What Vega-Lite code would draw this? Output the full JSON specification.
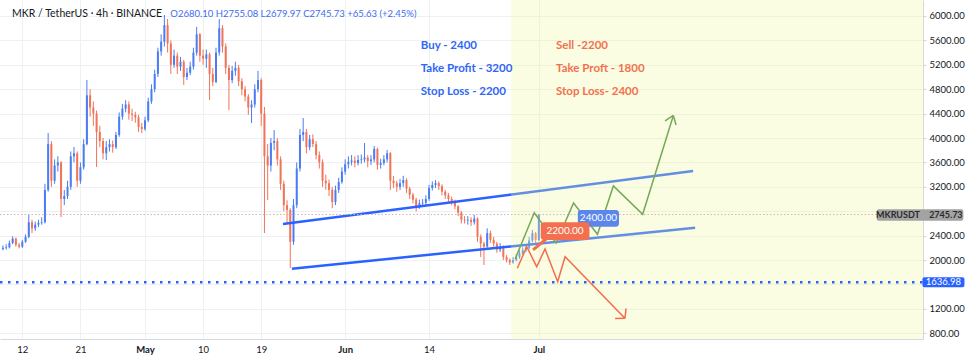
{
  "$schema": "https://vega.github.io/schema/vega-lite/v6.json",
  "width": 923,
  "height": 339,
  "autosize": {"type": "none"},
  "padding": {"left": 0, "top": 0, "right": 45, "bottom": 22},
  "background": "white",
  "config": {"view": {"stroke": null}, "font": "Lato"},
  "encoding": {
    "x": {"field": "t", "type": "temporal", "title": null,
      "scale": {"type": "utc", "domain": [{"year": 2021, "month": 4, "date": 8, "hours": 13, "utc": true}, {"year": 2021, "month": 8, "date": 29, "hours": 12, "utc": true}]},
      "axis": {"title": null, "orient": "bottom",
        "values": [{"year": 2021, "month": 4, "date": 12, "utc": true}, {"year": 2021, "month": 4, "date": 21, "utc": true}, {"year": 2021, "month": 5, "date": 1, "utc": true}, {"year": 2021, "month": 5, "date": 10, "utc": true}, {"year": 2021, "month": 5, "date": 19, "utc": true}, {"year": 2021, "month": 6, "date": 1, "utc": true}, {"year": 2021, "month": 6, "date": 14, "utc": true}, {"year": 2021, "month": 7, "date": 1, "utc": true}],
        "labelExpr": "utcdate(datum.value) == 1 ? utcFormat(datum.value, '%b') : utcFormat(datum.value, '%-d')",
        "labelFontWeight": {"condition": {"test": "utcdate(datum.value) == 1", "value": "bold"}, "value": "normal"},
        "labelFontSize": 9.5, "labelColor": "#131722", "labelPadding": 5, "labelFlush": false,
        "ticks": false, "domainColor": "#d6d9e0", "grid": true, "gridColor": "#eef0f4"}},
    "y": {"field": "p", "type": "quantitative", "title": null,
      "scale": {"domain": [706, 6262], "nice": false, "zero": false},
      "axis": {"title": null, "orient": "right",
        "values": [800, 1200, 1600, 2000, 2400, 2800, 3200, 3600, 4000, 4400, 4800, 5200, 5600, 6000],
        "labelExpr": "datum.value == 2800 || datum.value == 1600 ? '' : format(datum.value, '.2f')",
        "labelFontSize": 9.5, "labelColor": "#131722", "labelPadding": 3, "tickSize": 3, "tickColor": "#cfd2da",
        "domainColor": "#d6d9e0", "grid": true, "gridColor": "#eef0f4"}}
  },
  "datasets": {
    "candles": [
      {"t": "2021-04-09T00:00Z", "o": 2180, "h": 2240, "l": 2160, "c": 2200},
      {"t": "2021-04-09T12:00Z", "o": 2200, "h": 2260, "l": 2170, "c": 2210},
      {"t": "2021-04-10T00:00Z", "o": 2210, "h": 2320, "l": 2190, "c": 2280},
      {"t": "2021-04-10T12:00Z", "o": 2280, "h": 2390, "l": 2260, "c": 2350},
      {"t": "2021-04-11T00:00Z", "o": 2350, "h": 2370, "l": 2220, "c": 2250},
      {"t": "2021-04-11T12:00Z", "o": 2250, "h": 2280, "l": 2190, "c": 2220},
      {"t": "2021-04-12T00:00Z", "o": 2220, "h": 2330, "l": 2200, "c": 2300},
      {"t": "2021-04-12T12:00Z", "o": 2300, "h": 2420, "l": 2280, "c": 2380},
      {"t": "2021-04-13T00:00Z", "o": 2380, "h": 2740, "l": 2360, "c": 2620},
      {"t": "2021-04-13T12:00Z", "o": 2620, "h": 2660, "l": 2440, "c": 2520},
      {"t": "2021-04-14T00:00Z", "o": 2520, "h": 2630, "l": 2480, "c": 2580},
      {"t": "2021-04-14T12:00Z", "o": 2580, "h": 2660, "l": 2540, "c": 2610},
      {"t": "2021-04-15T00:00Z", "o": 2610, "h": 2700, "l": 2580, "c": 2620},
      {"t": "2021-04-15T12:00Z", "o": 2620, "h": 3250, "l": 2600, "c": 3150},
      {"t": "2021-04-16T00:00Z", "o": 3150, "h": 4082, "l": 3120, "c": 3900},
      {"t": "2021-04-16T12:00Z", "o": 3900, "h": 3950, "l": 3200, "c": 3300},
      {"t": "2021-04-17T00:00Z", "o": 3300, "h": 3650, "l": 3250, "c": 3550},
      {"t": "2021-04-17T12:00Z", "o": 3550, "h": 3700, "l": 3450, "c": 3600},
      {"t": "2021-04-18T00:00Z", "o": 3600, "h": 3620, "l": 2706, "c": 3000},
      {"t": "2021-04-18T12:00Z", "o": 3000, "h": 3150, "l": 2900, "c": 3050},
      {"t": "2021-04-19T00:00Z", "o": 3050, "h": 3300, "l": 3000, "c": 3200},
      {"t": "2021-04-19T12:00Z", "o": 3200, "h": 3780, "l": 3150, "c": 3700},
      {"t": "2021-04-20T00:00Z", "o": 3700, "h": 3853, "l": 3600, "c": 3750},
      {"t": "2021-04-20T12:00Z", "o": 3750, "h": 3780, "l": 3200, "c": 3300},
      {"t": "2021-04-21T00:00Z", "o": 3300, "h": 3600, "l": 3250, "c": 3520},
      {"t": "2021-04-21T12:00Z", "o": 3520, "h": 3980, "l": 3480, "c": 3900},
      {"t": "2021-04-22T00:00Z", "o": 3900, "h": 4951, "l": 3880, "c": 4700},
      {"t": "2021-04-22T12:00Z", "o": 4700, "h": 4800, "l": 4350, "c": 4500},
      {"t": "2021-04-23T00:00Z", "o": 4500, "h": 4600, "l": 4200, "c": 4400},
      {"t": "2021-04-23T12:00Z", "o": 4400, "h": 4450, "l": 3525, "c": 4100},
      {"t": "2021-04-24T00:00Z", "o": 4100, "h": 4200, "l": 3850, "c": 3950},
      {"t": "2021-04-24T12:00Z", "o": 3950, "h": 4000, "l": 3650, "c": 3750},
      {"t": "2021-04-25T00:00Z", "o": 3750, "h": 3950, "l": 3640, "c": 3850},
      {"t": "2021-04-25T12:00Z", "o": 3850, "h": 3980, "l": 3780, "c": 3900},
      {"t": "2021-04-26T00:00Z", "o": 3900, "h": 3960, "l": 3760, "c": 3850},
      {"t": "2021-04-26T12:00Z", "o": 3850, "h": 4100, "l": 3820, "c": 4050},
      {"t": "2021-04-27T00:00Z", "o": 4050, "h": 4420, "l": 4020, "c": 4350},
      {"t": "2021-04-27T12:00Z", "o": 4350, "h": 4560, "l": 4300, "c": 4480},
      {"t": "2021-04-28T00:00Z", "o": 4480, "h": 4620, "l": 4420, "c": 4550},
      {"t": "2021-04-28T12:00Z", "o": 4550, "h": 4600, "l": 4300, "c": 4400},
      {"t": "2021-04-29T00:00Z", "o": 4400, "h": 4480, "l": 4280, "c": 4380},
      {"t": "2021-04-29T12:00Z", "o": 4380, "h": 4430, "l": 4250, "c": 4340},
      {"t": "2021-04-30T00:00Z", "o": 4340, "h": 4380, "l": 4100, "c": 4180},
      {"t": "2021-04-30T12:00Z", "o": 4180, "h": 4250, "l": 4080, "c": 4150},
      {"t": "2021-05-01T00:00Z", "o": 4150, "h": 4350, "l": 4120, "c": 4290},
      {"t": "2021-05-01T12:00Z", "o": 4290, "h": 4660, "l": 4260, "c": 4600},
      {"t": "2021-05-02T00:00Z", "o": 4600, "h": 4880, "l": 4560, "c": 4800},
      {"t": "2021-05-02T12:00Z", "o": 4800, "h": 5120, "l": 4750, "c": 5050},
      {"t": "2021-05-03T00:00Z", "o": 5050, "h": 5480, "l": 5000, "c": 5420},
      {"t": "2021-05-03T12:00Z", "o": 5420, "h": 5700, "l": 5350, "c": 5580},
      {"t": "2021-05-04T00:00Z", "o": 5580, "h": 6016, "l": 5500, "c": 5850},
      {"t": "2021-05-04T12:00Z", "o": 5850, "h": 5950, "l": 5400, "c": 5550},
      {"t": "2021-05-05T00:00Z", "o": 5550, "h": 5600, "l": 5050, "c": 5200},
      {"t": "2021-05-05T12:00Z", "o": 5200, "h": 5450, "l": 5150, "c": 5350},
      {"t": "2021-05-06T00:00Z", "o": 5350, "h": 5400, "l": 5050, "c": 5170},
      {"t": "2021-05-06T12:00Z", "o": 5170, "h": 5330, "l": 5100, "c": 5250},
      {"t": "2021-05-07T00:00Z", "o": 5250, "h": 5280, "l": 4869, "c": 5000},
      {"t": "2021-05-07T12:00Z", "o": 5000, "h": 5150, "l": 4950, "c": 5070},
      {"t": "2021-05-08T00:00Z", "o": 5070, "h": 5250, "l": 5030, "c": 5170},
      {"t": "2021-05-08T12:00Z", "o": 5170, "h": 5480, "l": 5120, "c": 5400},
      {"t": "2021-05-09T00:00Z", "o": 5400, "h": 5820, "l": 5350, "c": 5700},
      {"t": "2021-05-09T12:00Z", "o": 5700, "h": 5720, "l": 5250, "c": 5350},
      {"t": "2021-05-10T00:00Z", "o": 5350, "h": 5450, "l": 5200, "c": 5300},
      {"t": "2021-05-10T12:00Z", "o": 5300, "h": 5450, "l": 5150, "c": 5370},
      {"t": "2021-05-11T00:00Z", "o": 5370, "h": 5400, "l": 4623, "c": 5050},
      {"t": "2021-05-11T12:00Z", "o": 5050, "h": 5150, "l": 4850, "c": 4920},
      {"t": "2021-05-12T00:00Z", "o": 4920, "h": 5480, "l": 4900, "c": 5400},
      {"t": "2021-05-12T12:00Z", "o": 5400, "h": 5950, "l": 5350, "c": 5800},
      {"t": "2021-05-13T00:00Z", "o": 5800, "h": 5850, "l": 5400, "c": 5500},
      {"t": "2021-05-13T12:00Z", "o": 5500, "h": 5550, "l": 5050, "c": 5150},
      {"t": "2021-05-14T00:00Z", "o": 5150, "h": 5200, "l": 4459, "c": 4950},
      {"t": "2021-05-14T12:00Z", "o": 4950, "h": 5180, "l": 4900, "c": 5100},
      {"t": "2021-05-15T00:00Z", "o": 5100, "h": 5250, "l": 5020, "c": 5150},
      {"t": "2021-05-15T12:00Z", "o": 5150, "h": 5200, "l": 4850, "c": 4930},
      {"t": "2021-05-16T00:00Z", "o": 4930, "h": 4980, "l": 4700, "c": 4800},
      {"t": "2021-05-16T12:00Z", "o": 4800, "h": 4850, "l": 4600, "c": 4680},
      {"t": "2021-05-17T00:00Z", "o": 4680, "h": 4720, "l": 4380, "c": 4500},
      {"t": "2021-05-17T12:00Z", "o": 4500, "h": 4620, "l": 4246, "c": 4550},
      {"t": "2021-05-18T00:00Z", "o": 4550, "h": 4880, "l": 4500, "c": 4800},
      {"t": "2021-05-18T12:00Z", "o": 4800, "h": 5100, "l": 4750, "c": 4950},
      {"t": "2021-05-19T00:00Z", "o": 4950, "h": 4980, "l": 4200, "c": 4400},
      {"t": "2021-05-19T12:00Z", "o": 4400, "h": 4509, "l": 2443, "c": 3700},
      {"t": "2021-05-20T00:00Z", "o": 3700, "h": 3900, "l": 2984, "c": 3550},
      {"t": "2021-05-20T12:00Z", "o": 3550, "h": 4000, "l": 3450, "c": 3920},
      {"t": "2021-05-21T00:00Z", "o": 3920, "h": 4131, "l": 3800, "c": 3950},
      {"t": "2021-05-21T12:00Z", "o": 3950, "h": 4000, "l": 3550, "c": 3650},
      {"t": "2021-05-22T00:00Z", "o": 3650, "h": 3700, "l": 3150, "c": 3250},
      {"t": "2021-05-22T12:00Z", "o": 3250, "h": 3300, "l": 2800, "c": 2900},
      {"t": "2021-05-23T00:00Z", "o": 2900, "h": 2980, "l": 2600, "c": 2820},
      {"t": "2021-05-23T12:00Z", "o": 2820, "h": 2850, "l": 1870, "c": 2300},
      {"t": "2021-05-24T00:00Z", "o": 2300, "h": 3000, "l": 2250, "c": 2900},
      {"t": "2021-05-24T12:00Z", "o": 2900, "h": 3600, "l": 2850, "c": 3500},
      {"t": "2021-05-25T00:00Z", "o": 3500, "h": 4150, "l": 3450, "c": 4050},
      {"t": "2021-05-25T12:00Z", "o": 4050, "h": 4328, "l": 3950, "c": 4100},
      {"t": "2021-05-26T00:00Z", "o": 4100, "h": 4150, "l": 3750, "c": 3850},
      {"t": "2021-05-26T12:00Z", "o": 3850, "h": 4050, "l": 3800, "c": 3980},
      {"t": "2021-05-27T00:00Z", "o": 3980, "h": 4060, "l": 3850, "c": 3900},
      {"t": "2021-05-27T12:00Z", "o": 3900, "h": 3950, "l": 3650, "c": 3720},
      {"t": "2021-05-28T00:00Z", "o": 3720, "h": 3780, "l": 3500, "c": 3600},
      {"t": "2021-05-28T12:00Z", "o": 3600, "h": 3650, "l": 3200, "c": 3300},
      {"t": "2021-05-29T00:00Z", "o": 3300, "h": 3400, "l": 3150, "c": 3260},
      {"t": "2021-05-29T12:00Z", "o": 3260, "h": 3320, "l": 3050, "c": 3150},
      {"t": "2021-05-30T00:00Z", "o": 3150, "h": 3200, "l": 2850, "c": 2950},
      {"t": "2021-05-30T12:00Z", "o": 2950, "h": 3220, "l": 2900, "c": 3150},
      {"t": "2021-05-31T00:00Z", "o": 3150, "h": 3350, "l": 3100, "c": 3280},
      {"t": "2021-05-31T12:00Z", "o": 3280, "h": 3520, "l": 3250, "c": 3450},
      {"t": "2021-06-01T00:00Z", "o": 3450, "h": 3650, "l": 3400, "c": 3570},
      {"t": "2021-06-01T12:00Z", "o": 3570, "h": 3700, "l": 3500, "c": 3610},
      {"t": "2021-06-02T00:00Z", "o": 3610, "h": 3720, "l": 3550, "c": 3630},
      {"t": "2021-06-02T12:00Z", "o": 3630, "h": 3700, "l": 3520, "c": 3590},
      {"t": "2021-06-03T00:00Z", "o": 3590, "h": 3720, "l": 3550, "c": 3640},
      {"t": "2021-06-03T12:00Z", "o": 3640, "h": 3730, "l": 3580, "c": 3650},
      {"t": "2021-06-04T00:00Z", "o": 3650, "h": 3918, "l": 3600, "c": 3680},
      {"t": "2021-06-04T12:00Z", "o": 3680, "h": 3720, "l": 3520, "c": 3620},
      {"t": "2021-06-05T00:00Z", "o": 3620, "h": 3720, "l": 3560, "c": 3650},
      {"t": "2021-06-05T12:00Z", "o": 3650, "h": 3870, "l": 3600, "c": 3820},
      {"t": "2021-06-06T00:00Z", "o": 3820, "h": 3840, "l": 3480, "c": 3560},
      {"t": "2021-06-06T12:00Z", "o": 3560, "h": 3660, "l": 3500, "c": 3590},
      {"t": "2021-06-07T00:00Z", "o": 3590, "h": 3720, "l": 3550, "c": 3650},
      {"t": "2021-06-07T12:00Z", "o": 3650, "h": 3804, "l": 3600, "c": 3750},
      {"t": "2021-06-08T00:00Z", "o": 3750, "h": 3770, "l": 3150, "c": 3300},
      {"t": "2021-06-08T12:00Z", "o": 3300, "h": 3380, "l": 3180, "c": 3260},
      {"t": "2021-06-09T00:00Z", "o": 3260, "h": 3300, "l": 3120, "c": 3200},
      {"t": "2021-06-09T12:00Z", "o": 3200, "h": 3330, "l": 3150, "c": 3260},
      {"t": "2021-06-10T00:00Z", "o": 3260, "h": 3380, "l": 3200, "c": 3310},
      {"t": "2021-06-10T12:00Z", "o": 3310, "h": 3340, "l": 3100, "c": 3170},
      {"t": "2021-06-11T00:00Z", "o": 3170, "h": 3200, "l": 3000, "c": 3070},
      {"t": "2021-06-11T12:00Z", "o": 3070, "h": 3100, "l": 2930, "c": 2990},
      {"t": "2021-06-12T00:00Z", "o": 2990, "h": 3020, "l": 2800, "c": 2870},
      {"t": "2021-06-12T12:00Z", "o": 2870, "h": 2990, "l": 2840, "c": 2930},
      {"t": "2021-06-13T00:00Z", "o": 2930, "h": 3000, "l": 2880, "c": 2940},
      {"t": "2021-06-13T12:00Z", "o": 2940, "h": 3060, "l": 2900, "c": 3000},
      {"t": "2021-06-14T00:00Z", "o": 3000, "h": 3230, "l": 2970, "c": 3180},
      {"t": "2021-06-14T12:00Z", "o": 3180, "h": 3290, "l": 3140, "c": 3230},
      {"t": "2021-06-15T00:00Z", "o": 3230, "h": 3310, "l": 3180, "c": 3260},
      {"t": "2021-06-15T12:00Z", "o": 3260, "h": 3290, "l": 3150, "c": 3210},
      {"t": "2021-06-16T00:00Z", "o": 3210, "h": 3240, "l": 3060, "c": 3120},
      {"t": "2021-06-16T12:00Z", "o": 3120, "h": 3150, "l": 3000, "c": 3060},
      {"t": "2021-06-17T00:00Z", "o": 3060, "h": 3100, "l": 2950, "c": 3000},
      {"t": "2021-06-17T12:00Z", "o": 3000, "h": 3040, "l": 2900, "c": 2960},
      {"t": "2021-06-18T00:00Z", "o": 2960, "h": 2990, "l": 2830, "c": 2880},
      {"t": "2021-06-18T12:00Z", "o": 2880, "h": 2900, "l": 2720, "c": 2780},
      {"t": "2021-06-19T00:00Z", "o": 2780, "h": 2800, "l": 2600, "c": 2660},
      {"t": "2021-06-19T12:00Z", "o": 2660, "h": 2720, "l": 2600, "c": 2650},
      {"t": "2021-06-20T00:00Z", "o": 2650, "h": 2720, "l": 2580, "c": 2660},
      {"t": "2021-06-20T12:00Z", "o": 2660, "h": 2700, "l": 2560, "c": 2620},
      {"t": "2021-06-21T00:00Z", "o": 2620, "h": 2740, "l": 2580, "c": 2680},
      {"t": "2021-06-21T12:00Z", "o": 2680, "h": 2700, "l": 2300, "c": 2380},
      {"t": "2021-06-22T00:00Z", "o": 2380, "h": 2420, "l": 2050, "c": 2270},
      {"t": "2021-06-22T12:00Z", "o": 2270, "h": 2300, "l": 1919, "c": 2220},
      {"t": "2021-06-23T00:00Z", "o": 2220, "h": 2520, "l": 2200, "c": 2440},
      {"t": "2021-06-23T12:00Z", "o": 2440, "h": 2480, "l": 2280, "c": 2330},
      {"t": "2021-06-24T00:00Z", "o": 2330, "h": 2380, "l": 2220, "c": 2270},
      {"t": "2021-06-24T12:00Z", "o": 2270, "h": 2300, "l": 2120, "c": 2170},
      {"t": "2021-06-25T00:00Z", "o": 2170, "h": 2280, "l": 2130, "c": 2210},
      {"t": "2021-06-25T12:00Z", "o": 2210, "h": 2240, "l": 2000, "c": 2050},
      {"t": "2021-06-26T00:00Z", "o": 2050, "h": 2080, "l": 1960, "c": 2000},
      {"t": "2021-06-26T12:00Z", "o": 2000, "h": 2030, "l": 1920, "c": 1960},
      {"t": "2021-06-27T00:00Z", "o": 1960, "h": 2050, "l": 1940, "c": 2000},
      {"t": "2021-06-27T12:00Z", "o": 2000, "h": 2100, "l": 1980, "c": 2050},
      {"t": "2021-06-28T00:00Z", "o": 2050, "h": 2160, "l": 2020, "c": 2110},
      {"t": "2021-06-28T12:00Z", "o": 2110, "h": 2210, "l": 2080, "c": 2160},
      {"t": "2021-06-29T00:00Z", "o": 2160, "h": 2260, "l": 2130, "c": 2200},
      {"t": "2021-06-29T12:00Z", "o": 2200, "h": 2380, "l": 2170, "c": 2320},
      {"t": "2021-06-30T00:00Z", "o": 2320, "h": 2493, "l": 2290, "c": 2440},
      {"t": "2021-06-30T12:00Z", "o": 2440, "h": 2460, "l": 2280, "c": 2330},
      {"t": "2021-07-01T00:00Z", "o": 2330, "h": 2755.08, "l": 2310, "c": 2745.73}
    ]
  },
  "layer": [
    {
      "data": {"name": "candles"},
      "mark": {"type": "rule", "strokeWidth": 1},
      "encoding": {
        "y": {"field": "l", "type": "quantitative", "title": null,
          "axis": {"title": null, "orient": "right",
            "values": [800, 1200, 1600, 2000, 2400, 2800, 3200, 3600, 4000, 4400, 4800, 5200, 5600, 6000],
            "labelExpr": "datum.value == 2800 || datum.value == 1600 ? '' : format(datum.value, '.2f')",
            "labelFontSize": 9.5, "labelColor": "#131722", "labelPadding": 3, "tickSize": 3, "tickColor": "#cfd2da",
            "domainColor": "#d6d9e0", "grid": true, "gridColor": "#eef0f4"}},
        "y2": {"field": "h"},
        "color": {"condition": {"test": "datum.c >= datum.o", "value": "#4a7cf2"}, "value": "#f07457"}
      }
    },
    {
      "data": {"name": "candles"},
      "mark": {"type": "rule", "strokeWidth": 2},
      "encoding": {
        "y": {"field": "o", "type": "quantitative", "title": null,
          "axis": {"title": null, "orient": "right",
            "values": [800, 1200, 1600, 2000, 2400, 2800, 3200, 3600, 4000, 4400, 4800, 5200, 5600, 6000],
            "labelExpr": "datum.value == 2800 || datum.value == 1600 ? '' : format(datum.value, '.2f')",
            "labelFontSize": 9.5, "labelColor": "#131722", "labelPadding": 3, "tickSize": 3, "tickColor": "#cfd2da",
            "domainColor": "#d6d9e0", "grid": true, "gridColor": "#eef0f4"}},
        "y2": {"field": "c"},
        "color": {"condition": {"test": "datum.c >= datum.o", "value": "#4a7cf2"}, "value": "#f07457"}
      }
    },
    {
      "data": {"values": [
        {"t": "2021-05-22T09:00Z", "p": 2591, "g": "upper"},
        {"t": "2021-07-24T21:30Z", "p": 3460, "g": "upper"},
        {"t": "2021-05-23T18:00Z", "p": 1858, "g": "lower"},
        {"t": "2021-07-25T05:00Z", "p": 2530, "g": "lower"}
      ]},
      "mark": {"type": "line", "color": "#2962ff", "strokeWidth": 2.5},
      "encoding": {"detail": {"field": "g"}}
    },
    {
      "data": {"values": [
        {"t": "2021-06-26T17:00Z", "t2": "2021-08-29T12:00Z", "p": 706, "p2": 6262}
      ]},
      "mark": {"type": "rect", "fill": "#eef79a", "opacity": 0.3},
      "encoding": {"x2": {"field": "t2"}, "y2": {"field": "p2"}}
    },
    {
      "data": {"values": [
        {"t": "2021-04-08T13:00Z", "p": 2745.73},
        {"t": "2021-08-29T12:00Z", "p": 2745.73}
      ]},
      "mark": {"type": "line", "color": "#d4b4ad", "strokeWidth": 1, "strokeDash": [1.5, 2]},
      "encoding": {}
    },
    {
      "data": {"values": [
        {"t": "2021-04-08T13:00Z", "p": 1636.98},
        {"t": "2021-08-29T12:00Z", "p": 1636.98}
      ]},
      "mark": {"type": "line", "color": "#2962ff", "strokeWidth": 2.5, "strokeDash": [2.5, 5.5]},
      "encoding": {}
    },
    {
      "data": {"values": [
        {"t": "2021-06-27T08:00Z", "p": 2017, "g": "path"},
        {"t": "2021-06-30T07:00Z", "p": 2776, "g": "path"},
        {"t": "2021-07-03T16:00Z", "p": 2279, "g": "path"},
        {"t": "2021-07-06T09:00Z", "p": 2935, "g": "path"},
        {"t": "2021-07-10T02:00Z", "p": 2422, "g": "path"},
        {"t": "2021-07-12T13:00Z", "p": 3214, "g": "path"},
        {"t": "2021-07-17T02:00Z", "p": 2750, "g": "path"},
        {"t": "2021-07-21T20:00Z", "p": 4370, "g": "path"},
        {"t": "2021-07-21T20:00Z", "p": 4370, "g": "barb1"},
        {"t": "2021-07-20T13:00Z", "p": 4279, "g": "barb1"},
        {"t": "2021-07-21T20:00Z", "p": 4370, "g": "barb2"},
        {"t": "2021-07-22T06:00Z", "p": 4214, "g": "barb2"}
      ]},
      "mark": {"type": "line", "color": "#76a85c", "strokeWidth": 1.5},
      "encoding": {"detail": {"field": "g"}}
    },
    {
      "data": {"values": [
        {"t": "2021-06-27T16:00Z", "p": 1865, "g": "path"},
        {"t": "2021-06-29T03:00Z", "p": 2219, "g": "path"},
        {"t": "2021-06-30T16:00Z", "p": 1891, "g": "path"},
        {"t": "2021-07-01T23:00Z", "p": 2181, "g": "path"},
        {"t": "2021-07-03T22:00Z", "p": 1645, "g": "path"},
        {"t": "2021-07-05T01:30Z", "p": 2055, "g": "path"},
        {"t": "2021-07-14T08:00Z", "p": 1045, "g": "path"},
        {"t": "2021-07-14T08:00Z", "p": 1045, "g": "barb1"},
        {"t": "2021-07-12T19:30Z", "p": 1042, "g": "barb1"},
        {"t": "2021-07-14T08:00Z", "p": 1045, "g": "barb2"},
        {"t": "2021-07-14T12:15Z", "p": 1206, "g": "barb2"}
      ]},
      "mark": {"type": "line", "color": "#f26d4f", "strokeWidth": 1.5},
      "encoding": {"detail": {"field": "g"}}
    },
    {
      "data": {"values": [
        {"t": "2021-07-07T01:00Z", "t2": "2021-07-13T10:00Z", "p": 2547, "p2": 2820}
      ]},
      "mark": {"type": "rect", "fill": "#5b86ea", "cornerRadius": 3},
      "encoding": {"x2": {"field": "t2"}, "y2": {"field": "p2"}}
    },
    {
      "data": {"values": [
        {"t": "2021-07-02T03:00Z", "p": 2345},
        {"t": "2021-06-30T02:40Z", "p": 2165}
      ]},
      "mark": {"type": "line", "color": "#f36f4f", "strokeWidth": 3},
      "encoding": {}
    },
    {
      "data": {"values": [
        {"t": "2021-07-01T07:00Z", "t2": "2021-07-08T20:00Z", "p": 2329, "p2": 2619}
      ]},
      "mark": {"type": "rect", "fill": "#f36f4f", "cornerRadius": 3},
      "encoding": {"x2": {"field": "t2"}, "y2": {"field": "p2"}}
    },
    {
      "data": {"values": [
        {"t": "2021-07-10T05:30Z", "p": 2683, "txt": "2400.00"},
        {"t": "2021-07-05T01:30Z", "p": 2474, "txt": "2200.00"}
      ]},
      "mark": {"type": "text", "color": "white", "fontSize": 10, "align": "center", "baseline": "middle"},
      "encoding": {"text": {"field": "txt"}}
    },
    {
      "data": {"values": [
        {"t": "2021-08-22T08:00Z", "t2": "2021-09-04T18:00Z", "p": 2645, "p2": 2832}
      ]},
      "mark": {"type": "rect", "fill": "#a3a3a3", "cornerRadius": 2},
      "encoding": {"x2": {"field": "t2"}, "y2": {"field": "p2"}}
    },
    {
      "data": {"values": [
        {"t": "2021-08-25T15:00Z", "p": 2740, "txt": "MKRUSDT"},
        {"t": "2021-09-02T01:00Z", "p": 2740, "txt": "2745.73"}
      ]},
      "mark": {"type": "text", "color": "#2b2b2b", "fontSize": 9, "fontWeight": "bold", "align": "center", "baseline": "middle"},
      "encoding": {"text": {"field": "txt"}}
    },
    {
      "data": {"values": [
        {"t": "2021-08-29T10:00Z", "t2": "2021-09-04T22:00Z", "p": 1556, "p2": 1718}
      ]},
      "mark": {"type": "rect", "fill": "#2962ff", "cornerRadius": 2},
      "encoding": {"x2": {"field": "t2"}, "y2": {"field": "p2"}}
    },
    {
      "data": {"values": [
        {"t": "2021-09-01T16:00Z", "p": 1637, "txt": "1636.98"}
      ]},
      "mark": {"type": "text", "color": "white", "fontSize": 9.5, "align": "center", "baseline": "middle"},
      "encoding": {"text": {"field": "txt"}}
    },
    {
      "data": {"values": [
        {"t": "2021-06-12T17:00Z", "p": 5513, "txt": "Buy - 2400"},
        {"t": "2021-06-12T17:00Z", "p": 5126, "txt": "Take Profit - 3200"},
        {"t": "2021-06-12T17:00Z", "p": 4759, "txt": "Stop Loss - 2200"}
      ]},
      "mark": {"type": "text", "color": "#2f66f3", "fontSize": 11.5, "fontWeight": "bold", "align": "left", "baseline": "middle"},
      "encoding": {"text": {"field": "txt"}}
    },
    {
      "data": {"values": [
        {"t": "2021-07-03T16:00Z", "p": 5513, "txt": "Sell -2200"},
        {"t": "2021-07-03T16:00Z", "p": 5126, "txt": "Take Proft - 1800"},
        {"t": "2021-07-03T16:00Z", "p": 4759, "txt": "Stop Loss- 2400"}
      ]},
      "mark": {"type": "text", "color": "#f2714f", "fontSize": 11.5, "fontWeight": "bold", "align": "left", "baseline": "middle"},
      "encoding": {"text": {"field": "txt"}}
    },
    {
      "data": {"values": [
        {"t": "2021-04-10T10:00Z", "p": 6033, "txt": "MKR / TetherUS · 4h · BINANCE"}
      ]},
      "mark": {"type": "text", "color": "#131722", "fontSize": 10.5, "align": "left", "baseline": "middle"},
      "encoding": {"text": {"field": "txt"}}
    },
    {
      "data": {"values": [
        {"t": "2021-05-04T22:00Z", "p": 6033, "txt": "O2680.10  H2755.08  L2679.97  C2745.73  +65.63 (+2.45%)"}
      ]},
      "mark": {"type": "text", "color": "#3c6cf0", "fontSize": 9.5, "align": "left", "baseline": "middle"},
      "encoding": {"text": {"field": "txt"}}
    }
  ]
}
